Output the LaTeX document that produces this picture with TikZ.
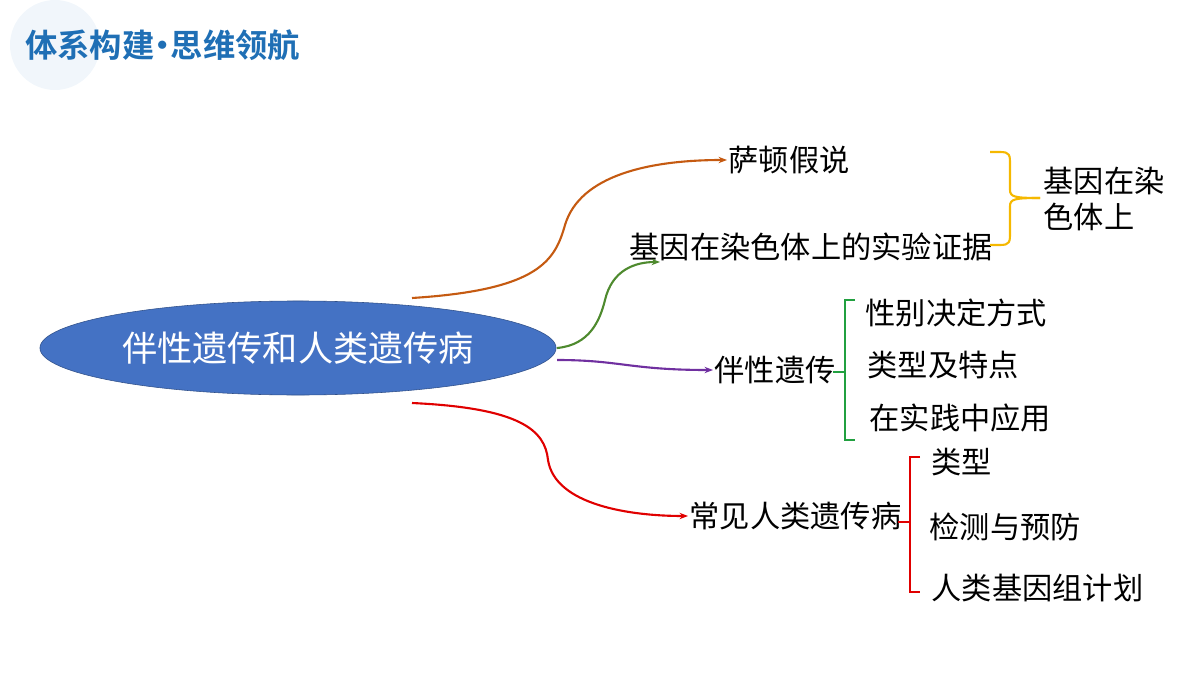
\documentclass[tikz,border=0pt]{standalone}
\usepackage{fontspec}
\setmainfont{Noto Sans CJK SC}
\newfontfamily\cjkb{Noto Sans CJK SC Bold}
\usetikzlibrary{arrows.meta,shapes.geometric}
\definecolor{ttl}{HTML}{1F6FB5}
\definecolor{ell}{HTML}{4472C4}
\definecolor{orn}{HTML}{C55A11}
\definecolor{grn}{HTML}{4E8A2E}
\definecolor{gbr}{HTML}{21A040}
\definecolor{ylw}{HTML}{F5B800}
\definecolor{prp}{HTML}{7030A0}
\definecolor{rd}{HTML}{E00000}
\tikzset{lbl/.style={font=\fontsize{21.5}{26}\selectfont, inner sep=1pt},
 conn/.style={line width=1.5pt,-{Stealth[length=6pt]}},
 brk/.style={line width=1.5pt}}
\begin{document}
\begin{tikzpicture}[x=0.025cm,y=-0.025cm]
\useasboundingbox (0,0) rectangle (1200,675);
\fill[ttl!6] (55,45) circle (45);
\node[anchor=west,text=ttl,font=\cjkb\fontsize{23}{27}\selectfont,inner sep=0pt] (title) at (25,45) {体系构建{\kern-0.25em}•{\kern-0.25em}思维领航};
\node[ellipse,fill=ell,draw=ell!70!black,minimum width=12.9cm,minimum height=2.35cm,text=white,font=\fontsize{25}{30}\selectfont] (main) at (298,348) {伴性遗传和人类遗传病};
\node[lbl,anchor=west] (sd) at (727,160) {萨顿假说};
\node[lbl,anchor=west] (jy) at (628,247) {基因在染色体上的实验证据};
\node[lbl,anchor=west,align=left] (jr) at (1042,199) {基因在染\\色体上};
\node[lbl,anchor=west] (bx) at (713,370) {伴性遗传};
\node[lbl,anchor=west] (a1) at (864,313) {性别决定方式};
\node[lbl,anchor=west] (a2) at (866,365) {类型及特点};
\node[lbl,anchor=west] (a3) at (868,418) {在实践中应用};
\node[lbl,anchor=west] (cj) at (688,516) {常见人类遗传病};
\node[lbl,anchor=west] (b1) at (930,462) {类型};
\node[lbl,anchor=west] (b2) at (928,527) {检测与预防};
\node[lbl,anchor=west] (b3) at (930,588) {人类基因组计划};
\coordinate (o1) at (412,298);
\coordinate (o2) at (557,348);
\coordinate (o3) at (557,360);
\coordinate (o4) at (412,403);
\draw[conn,orn] (o1) .. controls (540,290) and (555,260) .. (565,225) .. controls (580,175) and (650,160) .. (sd.west);
\draw[conn,grn] (o2) .. controls (590,345) and (600,320) .. (605,300) .. controls (612,270) and (635,262) .. (660,262);
\draw[conn,prp] (o3) .. controls (620,360) and (630,370) .. (bx.west);
\draw[conn,rd] (o4) .. controls (520,408) and (545,430) .. (548,460) .. controls (555,505) and (630,516) .. (cj.west);
\draw[brk,ylw] (990,152) -- (1000,152) .. controls (1010,152) and (1010,155) .. (1010,165) -- (1010,190) .. controls (1010,197) and (1015,198) .. (1040,198);
\draw[brk,ylw] (990,245) -- (1000,245) .. controls (1010,245) and (1010,242) .. (1010,232) -- (1010,206) .. controls (1010,199) and (1015,198) .. (1040,198);
\draw[brk,gbr] (855,300) -- (845,300) -- (845,440) -- (855,440);
\draw[brk,gbr] (833,372) -- (845,372);
\draw[brk,rd] (920,457) -- (910,457) -- (910,592) -- (920,592);
\draw[brk,rd] (898,522) -- (910,522);
\end{tikzpicture}
\end{document}
